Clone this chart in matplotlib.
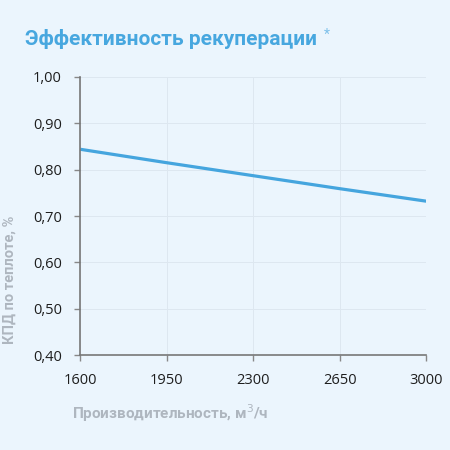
import matplotlib
matplotlib.use("Agg")
import matplotlib.pyplot as plt

capacity = [1600, 1950, 2300, 2650, 3000]
efficiency = [0.844, 0.815, 0.787, 0.759, 0.732]
x_ticks = [1600, 1950, 2300, 2650, 3000]
y_ticks = [0.40, 0.50, 0.60, 0.70, 0.80, 0.90, 1.00]
y_labels = ["0,40", "0,50", "0,60", "0,70", "0,80", "0,90", "1,00"]

bg = "#EBF5FD"
fig = plt.figure(figsize=(4.5, 4.5), dpi=100, facecolor=bg)
ax = fig.add_axes([0.178, 0.211, 0.769, 0.618], facecolor=bg)

ax.plot(capacity, efficiency, color="#45A5DE", linewidth=2.3, solid_capstyle="butt")
ax.set_xlim(1600, 3000)
ax.set_ylim(0.40, 1.00)
ax.set_xticks(x_ticks)
ax.set_xticklabels([str(v) for v in x_ticks], fontsize=10.5, family="Open Sans", color="#1E1E1E")
ax.set_yticks(y_ticks)
ax.set_yticklabels(y_labels, fontsize=10.5, family="Open Sans", color="#1E1E1E")
ax.tick_params(axis="both", direction="out", length=4, width=1, color="#888888")
ax.tick_params(axis="x", pad=9)
ax.tick_params(axis="y", pad=9)
ax.grid(True, color="#DDE7F0", linewidth=0.7)
for s in ["top", "right"]:
    ax.spines[s].set_visible(False)
for s in ["left", "bottom"]:
    ax.spines[s].set_color("#777777")
    ax.spines[s].set_linewidth(1.2)

fig.text(72 / 450, 1 - 413 / 450, "Производительность, м$^3$/ч", fontsize=11, family="Roboto",
         fontweight="bold", color="#AEB6BF", ha="left", va="center")
fig.text(10 / 450, 1 - 280 / 450, "КПД по теплоте, %", fontsize=10.5, family="Roboto",
         fontweight="bold", color="#AEB6BF", rotation=90, ha="center", va="center")

fig.text(25 / 450, 1 - 39 / 450, "Эффективность рекуперации", fontsize=15, family="Roboto",
         fontweight="bold", color="#47A7DF", va="center", ha="left")
fig.text(324 / 450, 1 - 35 / 450, "*", fontsize=10, family="Roboto", color="#7DC0EA",
         va="center", ha="left")

fig.savefig("out.png", dpi=100, facecolor=bg)
